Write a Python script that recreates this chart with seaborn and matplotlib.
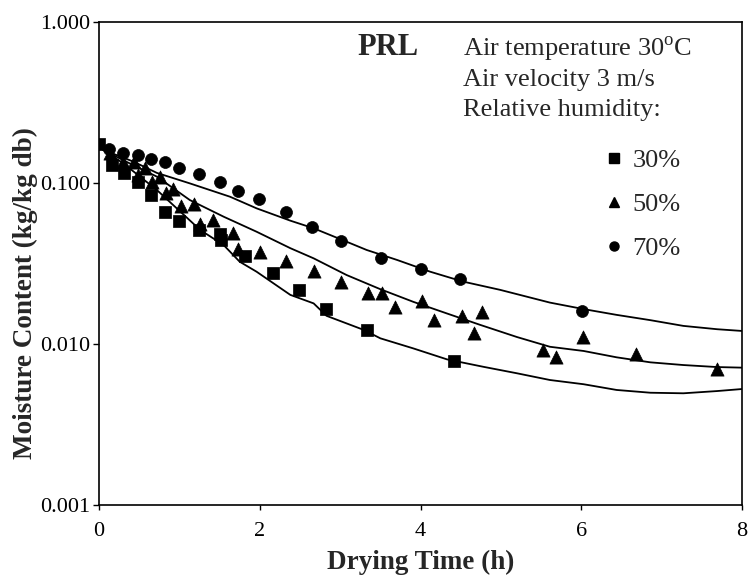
import numpy as np
import pandas as pd
import matplotlib
matplotlib.use("Agg")
import matplotlib.pyplot as plt
import seaborn as sns
from matplotlib.ticker import FixedLocator, FixedFormatter, NullLocator
from matplotlib.lines import Line2D

rh30_t = [0.0, 0.16, 0.31, 0.49, 0.65, 0.82, 1.00, 1.24, 1.50, 1.52, 1.82, 2.16, 2.49, 2.83, 3.34, 4.42]
rh30_y = [0.174, 0.129, 0.115, 0.101, 0.084, 0.066, 0.058, 0.051, 0.048, 0.044, 0.035, 0.0276,
          0.0215, 0.0164, 0.0122, 0.0078]

rh50_t = [0.14, 0.30, 0.43, 0.49, 0.57, 0.66, 0.76, 0.83, 0.92, 1.02, 1.18, 1.26, 1.42, 1.67, 1.73,
          2.00, 2.33, 2.67, 3.01, 3.35, 3.52, 3.68, 4.02, 4.17, 4.51, 4.67, 4.77, 5.52, 5.69, 6.02,
          6.68, 7.69]
rh50_y = [0.152, 0.135, 0.134, 0.112, 0.123, 0.101, 0.108, 0.086, 0.092, 0.072, 0.074, 0.055, 0.059,
          0.049, 0.0386, 0.0373, 0.0327, 0.0284, 0.0243, 0.0206, 0.0206, 0.0170, 0.0184, 0.0140,
          0.0149, 0.0117, 0.0157, 0.00914, 0.00823, 0.0110, 0.00859, 0.00693]

rh70_t = [0.13, 0.30, 0.48, 0.65, 0.82, 1.00, 1.24, 1.51, 1.73, 1.99, 2.33, 2.65, 3.01, 3.51, 4.00,
          4.49, 6.01]
rh70_y = [0.161, 0.152, 0.149, 0.140, 0.134, 0.123, 0.114, 0.101, 0.089, 0.079, 0.066, 0.0528,
          0.0436, 0.0342, 0.0290, 0.0253, 0.0160]

# ---- model curves ----
fit70_t = [0.05, 0.43, 0.72, 1.13, 1.63, 1.96, 2.38, 2.67, 3.08, 3.33, 3.71, 4.12, 4.53, 4.99, 5.61,
           6.03, 6.44, 6.86, 7.27, 7.69, 8.0]
fit70_y = [0.160, 0.135, 0.115, 0.099, 0.0818, 0.0693, 0.0581, 0.0521, 0.0430, 0.0382, 0.0331,
           0.0280, 0.0243, 0.0216, 0.0180, 0.0164, 0.0151, 0.0140, 0.0129, 0.0123, 0.0120]
fit50_t = [0.05, 0.30, 0.72, 1.13, 1.55, 1.96, 2.38, 2.67, 3.08, 3.50, 3.91, 4.33, 4.74, 5.20, 5.61,
           6.03, 6.44, 6.86, 7.27, 7.69, 8.0]
fit50_y = [0.160, 0.138, 0.109, 0.078, 0.0615, 0.0496, 0.0392, 0.0339, 0.0267, 0.0218, 0.0182,
           0.0154, 0.0131, 0.0110, 0.00957, 0.00901, 0.00823, 0.00766, 0.00737, 0.00716, 0.00710]
fit30_t = [0.05, 0.30, 0.72, 1.26, 1.55, 1.75, 1.96, 2.38, 2.67, 2.83, 3.29, 3.50, 3.91, 4.33, 4.78,
           5.20, 5.61, 6.03, 6.44, 6.86, 7.27, 7.69, 8.0]
fit30_y = [0.160, 0.132, 0.090, 0.0508, 0.0410, 0.0323, 0.0280, 0.0201, 0.0178, 0.0149, 0.0122,
           0.0108, 0.00935, 0.00799, 0.00719, 0.00655, 0.00595, 0.00560, 0.00516, 0.00496,
           0.00492, 0.00508, 0.00523]

series_labels = ["30%", "50%", "70%"]
y_ticks = [0.001, 0.01, 0.1, 1.0]
y_tick_labels = ["0.001", "0.010", "0.100", "1.000"]
x_ticks = [0, 2, 4, 6, 8]

sns.set_style("ticks")
plt.rcParams["font.family"] = ["Liberation Serif", "DejaVu Serif"]
plt.rcParams["mathtext.fontset"] = "custom"
plt.rcParams["mathtext.rm"] = "Liberation Serif"

fig = plt.figure(figsize=(7.48, 5.78), dpi=100)
ax = fig.add_axes([0.1324, 0.1268, 0.8596, 0.8357])

# curves
for t, y in [(fit30_t, fit30_y), (fit50_t, fit50_y), (fit70_t, fit70_y)]:
    df = pd.DataFrame({"t": t, "y": y})
    sns.lineplot(data=df, x="t", y="y", ax=ax, color="black", lw=1.3,
                 sort=False, estimator=None)

# points
pts = [(rh30_t, rh30_y, "s", 66), (rh50_t, rh50_y, "^", 90), (rh70_t, rh70_y, "o", 74)]
for t, y, m, s in pts:
    df = pd.DataFrame({"t": t, "y": y})
    sns.scatterplot(data=df, x="t", y="y", ax=ax, marker=m, s=s, color="black",
                    edgecolor="black", linewidth=0.5, zorder=3)

ax.set_yscale("log")
ax.set_xlim(0, 8)
ax.set_ylim(0.001, 1.0)
ax.yaxis.set_major_locator(FixedLocator(y_ticks))
ax.yaxis.set_major_formatter(FixedFormatter(y_tick_labels))
ax.yaxis.set_minor_locator(NullLocator())
ax.set_xticks(x_ticks)
ax.set_xticklabels([str(v) for v in x_ticks])

for sp in ax.spines.values():
    sp.set_visible(True)
    sp.set_color("black")
    sp.set_linewidth(1.2)

ax.tick_params(axis="y", direction="out", length=4.5, width=1.0, pad=1.5, labelsize=16,
               colors="black")
ax.tick_params(axis="x", direction="out", length=3.5, width=1.0, pad=9, labelsize=16,
               colors="black")

ax.set_xlabel("Drying Time (h)", fontsize=19.5, fontweight="bold", labelpad=6)
ax.set_ylabel("Moisture Content (kg/kg db)", fontsize=19.5, fontweight="bold")
ax.yaxis.set_label_coords(-0.095, 0.438)

# annotation text
ax.text(0.449, 0.931, "PRL", transform=ax.transAxes, fontsize=22, fontweight="bold",
        ha="center", va="baseline")
ax.text(0.566, 0.929, r"Air temperature 30$^{\mathrm{o}}$C", transform=ax.transAxes,
        fontsize=19, ha="left", va="baseline")
ax.text(0.566, 0.867, "Air velocity 3 m/s", transform=ax.transAxes, fontsize=19,
        ha="left", va="baseline")
ax.text(0.566, 0.805, "Relative humidity:", transform=ax.transAxes, fontsize=19,
        ha="left", va="baseline")

handles = [Line2D([], [], ls="none", marker=m, color="black", ms=ms, label=lab)
           for m, ms, lab in zip(["s", "^", "o"], [6.5, 7.0, 6.5], series_labels)]
ax.legend(handles=handles, loc="upper left", bbox_to_anchor=(0.789, 0.737), frameon=False,
          fontsize=19, handlelength=0.6, handletextpad=0.4, labelspacing=0.78,
          borderpad=0, borderaxespad=0)

fig.savefig("out.png", dpi=100)
